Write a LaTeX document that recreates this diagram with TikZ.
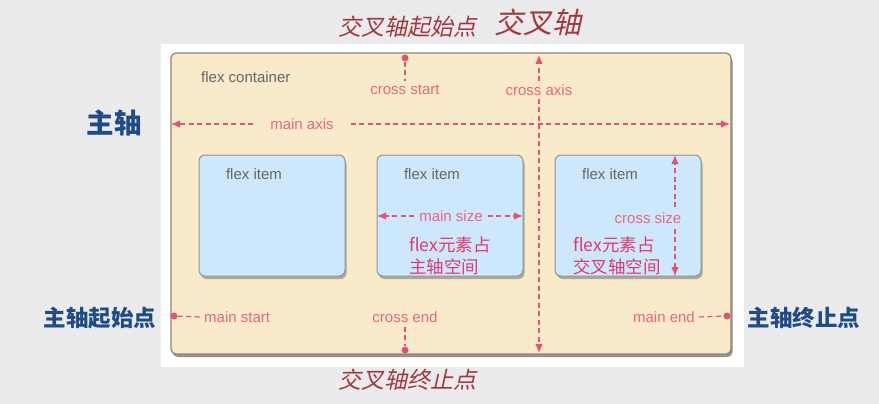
\documentclass[tikz,border=0pt]{standalone}
\usepackage{fontspec}
\setmainfont{Liberation Sans}
\newfontfamily\cjk{Noto Sans CJK SC}
\newfontfamily\cjkslant[FakeSlant=0.22]{Noto Sans CJK SC}
\usepackage{xcolor}
\usetikzlibrary{positioning, calc, arrows.meta, shadows}

\definecolor{bgGray}{HTML}{EBEBEE}
\definecolor{boxBeige}{HTML}{F9EBC9}
\definecolor{boxEdge}{HTML}{8C8474}
\definecolor{itemBlue}{HTML}{CDE8FC}
\definecolor{itemEdge}{HTML}{8D959C}
\definecolor{axisPink}{HTML}{E45177}
\definecolor{labelPink}{HTML}{E9667F}
\definecolor{notePink}{HTML}{E2386E}
\definecolor{noteRed}{HTML}{A03A3E}
\definecolor{axisBlue}{HTML}{1F4C87}
\definecolor{textGray}{HTML}{666666}

\begin{document}
\begin{tikzpicture}[x=1pt, y=-1pt, >={Latex[length=9pt,width=7.5pt]}]

    % Styles for the flex layout parts
    \tikzset{
        container/.style={draw=boxEdge, line width=1.2pt, fill=boxBeige, rounded corners=5pt,
            minimum width=560pt, minimum height=301pt, outer sep=0pt,
            drop shadow={shadow xshift=1.5pt, shadow yshift=-3pt, opacity=0.6, fill=black!70}},
        flexitem/.style={draw=itemEdge, line width=1pt, fill=itemBlue, rounded corners=6pt,
            minimum width=146pt, minimum height=121pt, outer sep=0pt,
            drop shadow={shadow xshift=1.5pt, shadow yshift=-3pt, opacity=0.5, fill=black!60}},
        itemtext/.style={text=textGray, font=\fontsize{15}{18}\selectfont, inner sep=0pt},
        pinktext/.style={text=labelPink, font=\fontsize{15}{18}\selectfont, inner sep=4pt},
        notetext/.style={text=notePink, font=\cjk\fontsize{17.5}{22}\selectfont, align=left,
            inner sep=0pt, anchor=north west},
        dashline/.style={axisPink, line width=1.2pt, dash pattern=on 5pt off 3.5pt},
        dot/.style={circle, fill=axisPink, inner sep=0pt, minimum size=7pt},
        redslant/.style={text=noteRed, font=\cjkslant\fontsize{23}{27}\selectfont, inner sep=0pt},
        bluebold/.style={text=axisBlue, font=\cjk\bfseries\fontsize{22.5}{26}\selectfont, inner sep=0pt}
    }

    % ==========================================
    % Background and white panel
    % ==========================================
    \fill[bgGray] (0,0) rectangle (879,404);
    \useasboundingbox (0,0) rectangle (879,404);
    \fill[white] (161,44) rectangle (744,367);

    % ==========================================
    % Container and items
    % ==========================================
    \node[container] (box) at (451,203.5) {};
    \node[itemtext, anchor=west] (boxtext) at (201,77) {flex container};

    \node[flexitem] (item1) at (272,215.5) {};
    \node[flexitem, right=32pt of item1] (item2) {};
    \node[flexitem, right=32pt of item2] (item3) {};

    \foreach \i in {1,2,3} {
        \node[itemtext] (itemtext\i) at ($(item\i.north)+(-18,19)$) {flex item};
    }

    % ==========================================
    % Main axis
    % ==========================================
    \node[pinktext, inner xsep=17pt] (mainaxis) at (302,124) {main axis};
    \coordinate (mainleft) at (171,124);
    \coordinate (mainright) at (730,124);
    \draw[dashline, ->] (mainaxis.west) -- (mainleft);
    \draw[dashline, ->] (mainaxis.east) -- (mainright);

    % main start / main end
    \node[dot] (startdot) at (174,316) {};
    \node[pinktext, anchor=west] (mainstart) at (200,317) {main start};
    \draw[dashline] (startdot) -- (mainstart.west);

    \node[dot] (enddot) at (727,316) {};
    \node[pinktext, anchor=east] (mainend) at (699,317) {main end};
    \draw[dashline] (mainend.east) -- (enddot);

    % ==========================================
    % Cross axis
    % ==========================================
    \node[pinktext, inner ysep=3pt] (crossaxis) at (539,90) {cross axis};
    \coordinate (crosstop) at (539,55);
    \coordinate (crossbottom) at (539,353);
    \draw[dashline, ->] (crossaxis.north) -- (crosstop);
    \draw[dashline, ->] (crossaxis.south) -- (crossbottom);

    % cross start / cross end
    \node[dot] (cstartdot) at (405,58) {};
    \node[pinktext] (crossstart) at (405,90) {cross start};
    \draw[dashline] (cstartdot) -- (crossstart.north);

    \node[dot] (cenddot) at (405,350) {};
    \node[pinktext] (crossend) at (405,317) {cross end};
    \draw[dashline] (crossend.south) -- (cenddot);

    % ==========================================
    % Main size and cross size
    % ==========================================
    \node[pinktext, inner xsep=5pt] (mainsize) at (451,216) {main size};
    \coordinate (sizeleft) at (377,216);
    \coordinate (sizeright) at (523,216);
    \draw[dashline, ->] (mainsize.west) -- (sizeleft);
    \draw[dashline, ->] (mainsize.east) -- (sizeright);

    \node[pinktext, inner ysep=5pt] (crosssize) at (648,218) {cross size};
    \coordinate (sizetop) at (675,155);
    \coordinate (sizebottom) at (675,276);
    \draw[dashline, ->] (crosssize.north -| sizetop) -- (sizetop);
    \draw[dashline, ->] (crosssize.south -| sizetop) -- (sizebottom);

    \node[notetext] (note2) at (409,237) {flex元素占\\主轴空间};
    \node[notetext] (note3) at (573,237) {flex元素占\\交叉轴空间};

    % ==========================================
    % Outside labels
    % ==========================================
    \node[redslant, anchor=west] (crossstartcn) at (338,27) {交叉轴起始点};
    \node[redslant, anchor=west, font=\cjkslant\fontsize{29}{32}\selectfont] (crossaxiscn) at (494,22) {交叉轴};
    \node[redslant, anchor=west] (crossendcn) at (338,380) {交叉轴终止点};

    \node[bluebold, font=\cjk\bfseries\fontsize{27.5}{30}\selectfont] (mainaxiscn) at (114,123) {主轴};
    \node[bluebold] (mainstartcn) at (100,318) {主轴起始点};
    \node[bluebold] (mainendcn) at (804,318) {主轴终止点};

\end{tikzpicture}
\end{document}
